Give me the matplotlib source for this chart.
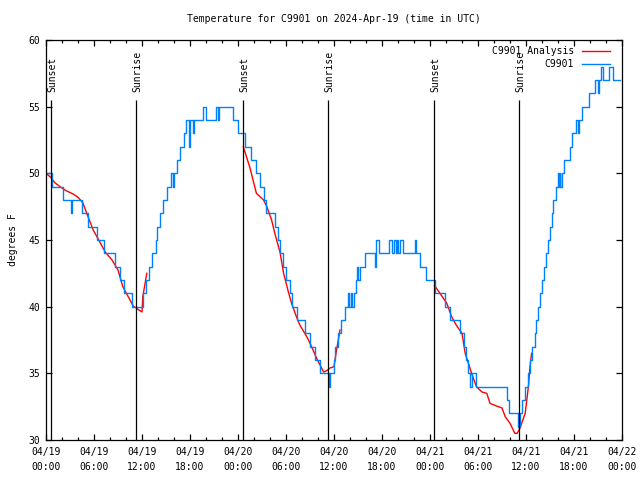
import numpy as np
import matplotlib
matplotlib.use("Agg")
import matplotlib.pyplot as plt

plt.rcParams['font.family'] = ['DejaVu Sans Mono']
plt.rcParams['font.size'] = 7

# hours since 2024-04-19 00:00 UTC, observed temperature (deg F)
obs_hours = [0.0, 0.7, 2.1, 3.15, 3.3, 4.55, 5.3, 6.4, 7.3, 8.6, 9.2, 9.75, 10.7,
             12.1, 12.5, 12.9, 13.3, 13.75, 13.9, 14.2, 14.6, 15.1, 15.6, 15.85,
             16.05, 16.4, 16.75, 17.2, 17.55, 17.85, 18.0, 18.35, 18.55, 19.6,
             20.0, 21.25, 21.45, 21.65, 23.35, 24.0, 24.9, 25.65, 26.25, 26.7,
             27.25, 27.45, 28.65, 29.05, 29.3, 29.6, 30.05, 30.45, 30.8, 31.4,
             32.4, 32.95, 33.65, 34.2, 35.35, 35.55, 35.95, 36.15, 36.5, 36.9,
             37.35, 37.7, 37.9, 38.1, 38.25, 38.45, 38.7, 38.85, 39.05, 39.25,
             39.9, 41.1, 41.3, 41.65, 42.9, 43.2, 43.5, 43.7, 43.9, 44.05, 44.3,
             44.65, 46.1, 46.25, 46.75, 47.5, 48.65, 49.9, 50.5, 51.75, 52.2,
             52.45, 52.75, 53.0, 53.25, 53.7, 57.6, 57.9, 59.0, 59.3, 59.5,
             59.85, 60.2, 60.45, 60.8, 61.1, 61.3, 61.55, 61.8, 62.0, 62.3,
             62.5, 62.8, 63.0, 63.2, 63.4, 63.75, 64.0, 64.1, 64.25, 64.3,
             64.45, 64.75, 65.5, 65.8, 66.3, 66.45, 66.65, 66.95, 67.9, 68.6,
             69.0, 69.15, 69.4, 69.6, 70.4, 70.9, 71.75]
obs_temps = [50, 49, 48, 47, 48, 47, 46, 45, 44, 43, 42, 41, 40,
             41, 42, 43, 44, 45, 46, 47, 48, 49, 50, 49,
             50, 51, 52, 53, 54, 52, 54, 53, 54, 55,
             54, 55, 54, 55, 54, 53, 52, 51, 50, 49,
             48, 47, 46, 45, 44, 43, 42, 41, 40, 39,
             38, 37, 36, 35, 34, 35, 36, 37, 38, 39,
             40, 41, 40, 41, 40, 41, 42, 43, 42, 43,
             44, 43, 45, 44, 45, 44, 45, 44, 45, 44, 45,
             44, 45, 44, 43, 42, 41, 40, 39, 38, 37,
             36, 35, 34, 35, 34, 33, 32, 31, 32, 33,
             34, 35, 36, 37, 38, 39, 40, 41, 42, 43,
             44, 45, 46, 47, 48, 49, 50, 49, 50, 49,
             50, 51, 52, 53, 54, 53, 54, 55, 56, 57,
             56, 57, 58, 57, 58, 57, 57]

# analysis series, three night-time pieces separated by nan
ana_hours = [0.0, 0.6, 1.1, 1.75, 2.5, 3.4, 4.0, 4.6, 5.25, 5.9, 6.5, 7.4, 8.25,
             9.0, 9.6, 10.5, 10.9, 11.75, 12.0, 12.1, 12.6, np.nan,
             24.66, 25.5, 26.3, 27.2, 27.6, 28.2, 28.6, 29.25, 29.7, 30.3, 30.7,
             31.3, 31.75, 32.6, 33.2, 33.85, 34.7, 35.1, 35.5, 36.0, 36.25,
             36.75, np.nan,
             48.55, 49.25, 50.1, 50.7, 51.3, 52.0, 52.4, 52.8, 53.2, 53.8, 54.5,
             55.1, 55.5, 56.3, 57.0, 57.4, 58.0, 58.6, 58.9, 59.25, 59.9, 60.3,
             60.5, 60.7]
ana_temps = [50.0, 49.7, 49.3, 49.0, 48.7, 48.45, 48.2, 47.8, 46.75, 45.75, 45.1,
             44.1, 43.5, 42.75, 41.5, 40.5, 40.05, 39.7, 39.6, 40.75, 42.5, np.nan,
             52.0, 50.4, 48.5, 48.0, 47.5, 46.5, 45.5, 44.1, 42.5, 41.1, 40.25,
             39.25, 38.6, 37.75, 37.0, 36.1, 35.1, 35.2, 35.4, 35.5, 36.5,
             38.25, np.nan,
             41.6, 41.0, 40.25, 39.25, 38.6, 38.0, 36.5, 35.75, 35.0, 34.0, 33.6,
             33.5, 32.75, 32.55, 32.4, 31.75, 31.25, 30.5, 30.5, 30.9, 32.0, 34.0,
             35.5, 36.5]

sun_hours = [0.66, 11.29, 24.66, 35.29, 48.54, 59.16]
sun_names = ['Sunset', 'Sunrise', 'Sunset', 'Sunrise', 'Sunset', 'Sunrise']

tick_hours = list(range(0, 73, 6))
tick_labels = ['04/19\n00:00', '04/19\n06:00', '04/19\n12:00', '04/19\n18:00',
               '04/20\n00:00', '04/20\n06:00', '04/20\n12:00', '04/20\n18:00',
               '04/21\n00:00', '04/21\n06:00', '04/21\n12:00', '04/21\n18:00',
               '04/22\n00:00']

fig = plt.figure(figsize=(6.4, 4.8), dpi=100)
ax = fig.add_axes([46 / 640, 40 / 480, 576 / 640, 400 / 480])

ax.plot(ana_hours, ana_temps, color='#ff0000', lw=1.0, label='C9901 Analysis')
ax.plot(obs_hours, obs_temps, color='#0080ff', lw=1.0, drawstyle='steps-post',
        label='C9901')

for h, name in zip(sun_hours, sun_names):
    ax.vlines(h, 30, 55.5, color='black', lw=0.9)
    ax.text(h + 0.15, 56.1, name, rotation=90, ha='center', va='bottom')

ax.set_xlim(0, 72)
ax.set_ylim(30, 60)
ax.set_xticks(tick_hours)
ax.set_xticklabels(tick_labels, linespacing=1.6)
ax.set_xticks(range(0, 73, 2), minor=True)
ax.set_yticks(range(30, 61, 5))
ax.tick_params(which='both', direction='in', top=True, right=True, width=0.9)
ax.tick_params(which='major', length=4.3)
ax.tick_params(which='minor', length=2.2)
ax.tick_params(axis='x', pad=5)
ax.tick_params(axis='y', pad=4)
for s in ax.spines.values():
    s.set_linewidth(0.9)

ax.set_ylabel('degrees F', labelpad=8)
ax.set_title('Temperature for C9901 on 2024-Apr-19 (time in UTC)', fontsize=7,
             pad=13)
ax.legend(loc='upper right', bbox_to_anchor=(0.979, 0.985), frameon=False,
          markerfirst=False, handlelength=2.9, borderpad=0, borderaxespad=0,
          labelspacing=0.35, handletextpad=0.8)

fig.savefig('out.png', dpi=100)
